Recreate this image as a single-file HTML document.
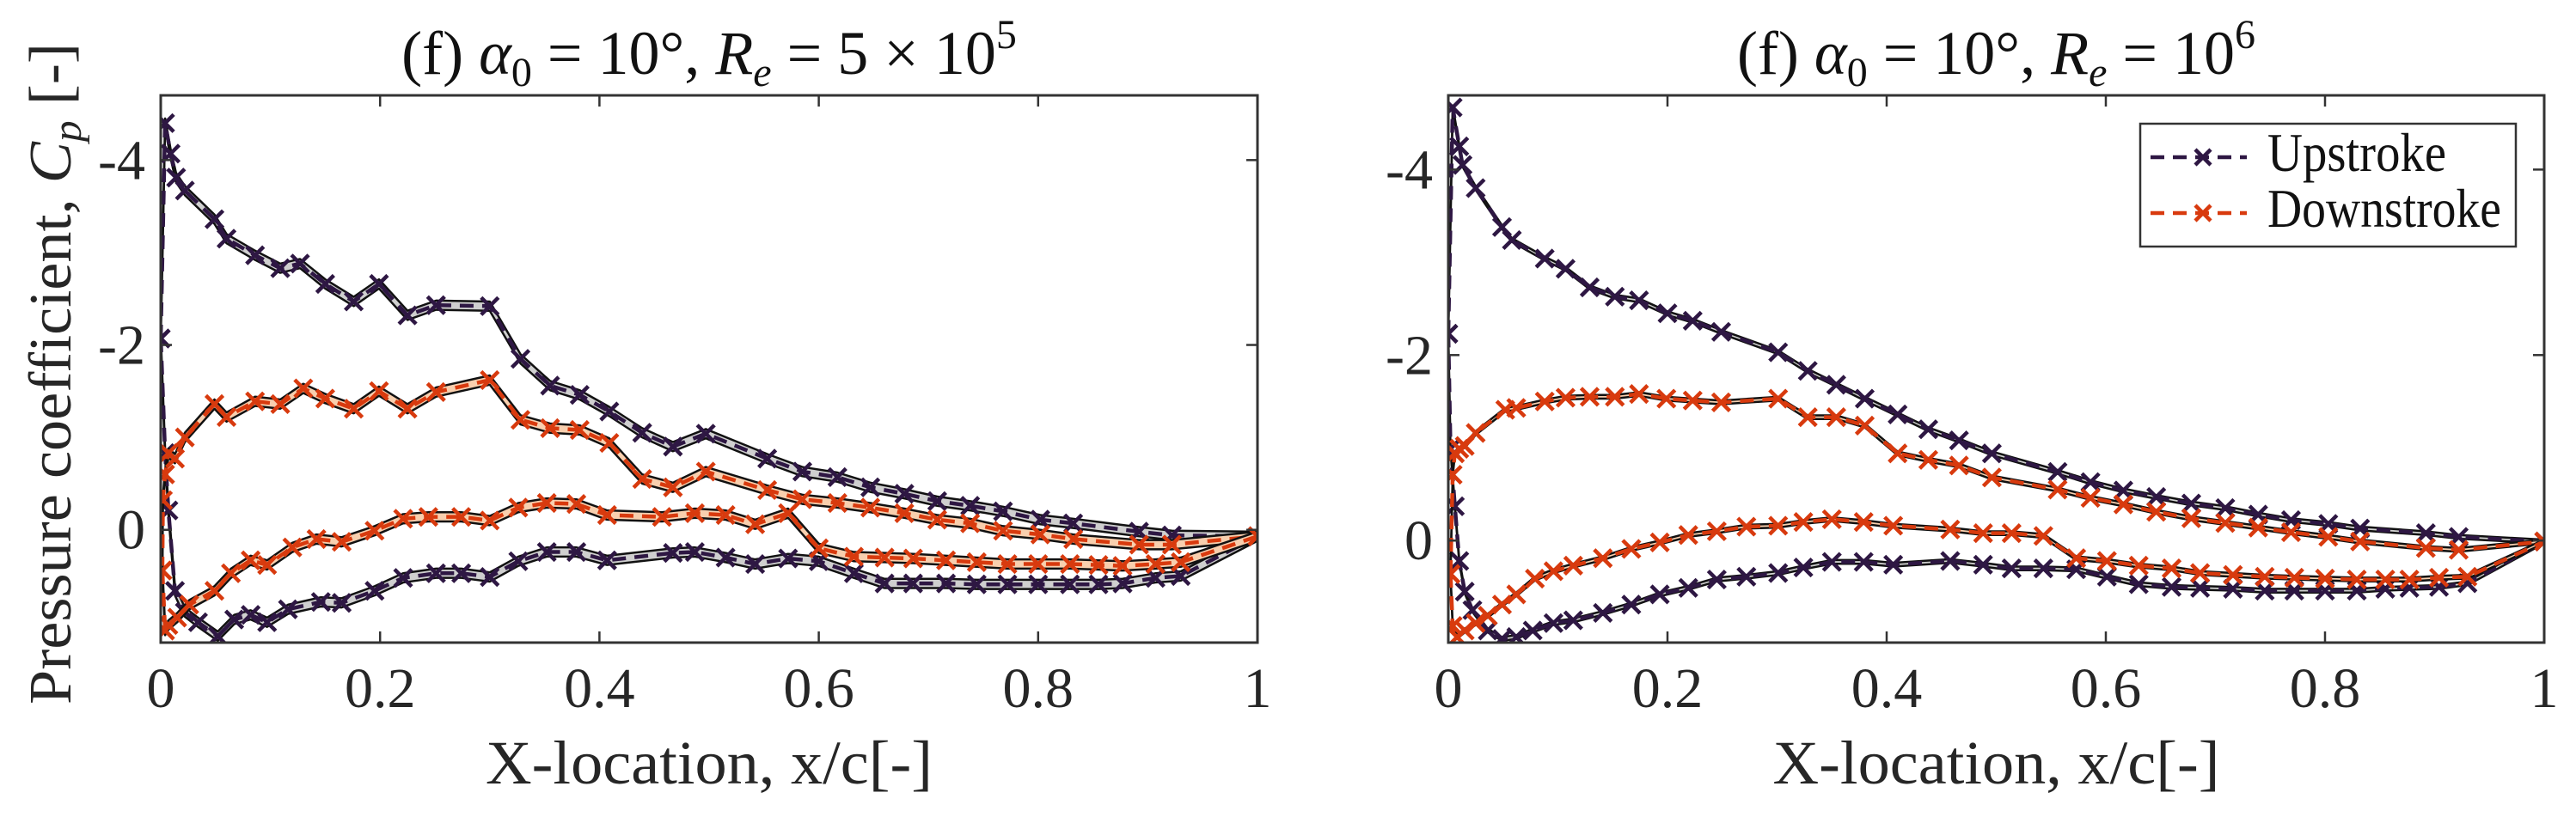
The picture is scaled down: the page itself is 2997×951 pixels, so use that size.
<!DOCTYPE html>
<html><head><meta charset="utf-8"><style>
html,body{margin:0;padding:0;background:#fff;}
svg{display:block;font-family:"Liberation Serif",serif;}
</style></head><body>
<svg id="fig" width="2997" height="951" viewBox="0 0 2997 951" xmlns="http://www.w3.org/2000/svg"></svg>
<script>
// ---------- data ----------
const xTicks = [0,0.2,0.4,0.6,0.8,1];
const xTickLabels = ["0","0.2","0.4","0.6","0.8","1"];
const yTicks = [-4,-2,0];
const yTickLabels = ["-4","-2","0"];

// Left panel (Re = 5e5)
const L_upU_x = [0,0.004,0.009,0.014,0.022,0.049,0.06,0.086,0.109,0.127,0.15,0.176,0.199,0.225,0.251,0.3,0.328,0.355,0.382,0.409,0.439,0.467,0.497,0.553,0.585,0.617,0.647,0.678,0.708,0.738,0.768,0.802,0.832,0.892,0.922,1.0];
const L_upU_y = [-2.07,-4.40,-4.07,-3.81,-3.67,-3.36,-3.15,-2.97,-2.83,-2.88,-2.66,-2.47,-2.66,-2.32,-2.43,-2.42,-1.85,-1.56,-1.46,-1.28,-1.05,-0.9,-1.04,-0.77,-0.63,-0.57,-0.46,-0.39,-0.31,-0.26,-0.2,-0.11,-0.07,0.02,0.06,0.07];
const L_upL_x = [0,0.004,0.007,0.013,0.022,0.034,0.052,0.067,0.082,0.097,0.116,0.146,0.165,0.195,0.221,0.251,0.274,0.3,0.326,0.352,0.379,0.407,0.467,0.487,0.515,0.542,0.572,0.6,0.632,0.66,0.686,0.716,0.744,0.772,0.8,0.829,0.855,0.877,0.907,0.93,1.0];
const L_upL_y = [-2.07,-0.83,-0.21,0.66,0.89,1.0,1.15,0.97,0.92,1.0,0.86,0.78,0.79,0.66,0.52,0.47,0.47,0.51,0.34,0.24,0.24,0.33,0.25,0.24,0.3,0.37,0.31,0.34,0.47,0.58,0.58,0.58,0.59,0.59,0.59,0.59,0.59,0.58,0.52,0.5,0.07];
const L_dnU_x = [0.0015,0.002,0.004,0.007,0.013,0.022,0.049,0.06,0.086,0.109,0.13,0.15,0.176,0.199,0.225,0.251,0.3,0.328,0.355,0.382,0.409,0.439,0.467,0.497,0.553,0.585,0.617,0.647,0.678,0.708,0.738,0.768,0.802,0.832,0.892,0.922,1.0];
const L_dnU_y = [0.44,-0.32,-0.6,-0.83,-0.77,-1.0,-1.36,-1.22,-1.39,-1.36,-1.53,-1.42,-1.31,-1.5,-1.31,-1.49,-1.62,-1.19,-1.1,-1.08,-0.94,-0.55,-0.46,-0.63,-0.43,-0.33,-0.29,-0.24,-0.18,-0.11,-0.07,0.01,0.05,0.1,0.16,0.16,0.07];
const L_dnL_x = [0.0015,0.004,0.007,0.015,0.026,0.049,0.064,0.082,0.097,0.12,0.142,0.165,0.195,0.221,0.244,0.274,0.3,0.326,0.352,0.379,0.407,0.457,0.487,0.515,0.542,0.572,0.6,0.632,0.66,0.686,0.716,0.744,0.772,0.8,0.829,0.855,0.877,0.907,0.93,1.0];
const L_dnL_y = [0.44,1.09,1.03,0.95,0.81,0.66,0.47,0.33,0.38,0.19,0.1,0.13,0.01,-0.12,-0.14,-0.14,-0.1,-0.24,-0.29,-0.28,-0.16,-0.14,-0.18,-0.16,-0.06,-0.18,0.2,0.29,0.3,0.31,0.33,0.35,0.37,0.37,0.37,0.38,0.39,0.37,0.35,0.07];

// Right panel (Re = 1e6)
const R_upU_x = [0,0.004,0.01,0.013,0.025,0.049,0.058,0.088,0.107,0.129,0.152,0.174,0.2,0.223,0.249,0.301,0.328,0.354,0.38,0.41,0.438,0.466,0.496,0.556,0.586,0.616,0.646,0.678,0.709,0.739,0.769,0.803,0.832,0.892,0.922,1.0];
const R_upU_y = [-2.23,-4.67,-4.25,-4.05,-3.8,-3.38,-3.24,-3.04,-2.93,-2.73,-2.63,-2.59,-2.45,-2.37,-2.25,-2.03,-1.83,-1.68,-1.53,-1.36,-1.2,-1.08,-0.94,-0.74,-0.63,-0.54,-0.47,-0.4,-0.35,-0.28,-0.22,-0.18,-0.13,-0.08,-0.04,0.01];
const R_upL_x = [0,0.002,0.006,0.01,0.015,0.022,0.036,0.049,0.062,0.077,0.096,0.114,0.141,0.167,0.193,0.219,0.245,0.272,0.301,0.324,0.35,0.379,0.406,0.458,0.488,0.514,0.543,0.573,0.601,0.63,0.66,0.686,0.716,0.745,0.772,0.8,0.829,0.855,0.877,0.904,0.93,1.0];
const R_upL_y = [-2.23,-0.99,-0.37,0.22,0.55,0.75,0.97,1.06,1.04,0.97,0.89,0.86,0.78,0.69,0.58,0.51,0.42,0.39,0.35,0.29,0.23,0.23,0.26,0.22,0.26,0.3,0.3,0.31,0.39,0.47,0.5,0.51,0.52,0.54,0.54,0.54,0.54,0.52,0.51,0.5,0.46,0.01];
const R_dnU_x = [0.002,0.004,0.006,0.01,0.015,0.025,0.052,0.062,0.088,0.107,0.129,0.152,0.174,0.199,0.223,0.249,0.301,0.328,0.354,0.38,0.41,0.438,0.466,0.496,0.556,0.586,0.616,0.646,0.678,0.709,0.739,0.769,0.803,0.832,0.892,0.922,1.0];
const R_dnU_y = [0.36,-0.71,-0.94,-0.99,-1.02,-1.16,-1.41,-1.43,-1.5,-1.54,-1.55,-1.55,-1.58,-1.53,-1.51,-1.49,-1.53,-1.33,-1.33,-1.24,-0.94,-0.87,-0.81,-0.68,-0.55,-0.46,-0.39,-0.31,-0.24,-0.19,-0.14,-0.09,-0.04,0.01,0.08,0.1,0.01];
const R_dnL_x = [0.002,0.004,0.008,0.015,0.025,0.036,0.049,0.062,0.079,0.096,0.114,0.141,0.167,0.193,0.219,0.245,0.272,0.301,0.324,0.35,0.379,0.406,0.458,0.488,0.514,0.543,0.573,0.601,0.63,0.66,0.686,0.716,0.745,0.772,0.8,0.829,0.855,0.877,0.904,0.93,1.0];
const R_dnL_y = [0.36,0.92,1.04,0.97,0.89,0.81,0.69,0.58,0.41,0.33,0.27,0.19,0.09,0.02,-0.06,-0.1,-0.15,-0.16,-0.2,-0.23,-0.2,-0.16,-0.12,-0.08,-0.08,-0.05,0.19,0.22,0.27,0.3,0.35,0.37,0.39,0.4,0.41,0.42,0.42,0.42,0.4,0.39,0.01];

// ---------- drawing ----------
const NS = "http://www.w3.org/2000/svg";
const svg = document.getElementById("fig");
const UP = "#2e1743", DN = "#d83a0e";
function mk(tag, attrs, parent){
  const e = document.createElementNS(NS, tag);
  for (const k in attrs) e.setAttribute(k, attrs[k]);
  (parent||svg).appendChild(e);
  return e;
}

function panel(id, box, ylim, titleHTML, series, bandHW){
  const g = mk("g", {});
  
  
  const sx = v => box.x0 + (v - 0) / 1 * (box.x1 - box.x0);
  const sy = v => box.y0 + (v - ylim[0]) / (ylim[1] - ylim[0]) * (box.y1 - box.y0);
  const clipId = id + "-clip";
  const cp = mk("clipPath", {id: clipId}, g);
  mk("rect", {x: box.x0, y: box.y0, width: box.x1-box.x0, height: box.y1-box.y0}, cp);
  const plot = mk("g", {"clip-path": "url(#"+clipId+")"}, g);

  series.forEach(s => {
    const sg = mk("g", {}, plot);
    
    
    const top = s.x.map((x,i)=>[sx(x), sy(s.y[i]-bandHW)]);
    const bot = s.x.map((x,i)=>[sx(x), sy(s.y[i]+bandHW)]);
    const band = mk("polygon", {points: top.concat(bot.slice().reverse()).map(p=>p.join(",")).join(" "),
      fill: s.fill, stroke: "none"}, sg);
    
    
    [top, bot].forEach(pts => {
      mk("polyline", {points: pts.map(p=>p.join(",")).join(" "), fill:"none", stroke:"#111", "stroke-width":2.5, "stroke-linejoin":"round"}, sg);
    });
    const line = mk("polyline", {points: s.x.map((x,i)=>sx(x)+","+sy(s.y[i])).join(" "),
      fill:"none", stroke: s.color, "stroke-width":4.5, "stroke-dasharray":"16,10"}, sg);
    
    
    s.x.forEach((x,i) => {
      const cx = sx(x), cy = sy(s.y[i]), r = 10;
      const m = mk("path", {d:`M${cx-r},${cy-r}L${cx+r},${cy+r}M${cx-r},${cy+r}L${cx+r},${cy-r}`, stroke: s.color, "stroke-width":4.5, fill:"none"}, sg);
      
      
    });
  });

  const frame = mk("rect", {x: box.x0, y: box.y0, width: box.x1-box.x0, height: box.y1-box.y0, fill:"none", stroke:"#333", "stroke-width":3}, g);
  
  
  xTicks.forEach((t,i) => {
    const x = sx(t);
    mk("line", {x1:x, x2:x, y1:box.y1, y2:box.y1-13, stroke:"#333", "stroke-width":2.5}, g);
    mk("line", {x1:x, x2:x, y1:box.y0, y2:box.y0+13, stroke:"#333", "stroke-width":2.5}, g);
    const tl = mk("text", {x:x, y:823, "text-anchor":"middle", "font-size":66, fill:"#262626"}, g);
    tl.textContent = xTickLabels[i];
    
    
  });
  yTicks.forEach((t,i) => {
    const y = sy(t);
    mk("line", {x1:box.x0, x2:box.x0+13, y1:y, y2:y, stroke:"#333", "stroke-width":2.5}, g);
    mk("line", {x1:box.x1, x2:box.x1-13, y1:y, y2:y, stroke:"#333", "stroke-width":2.5}, g);
    const tl = mk("text", {x:box.x0-18, y:y+22, "text-anchor":"end", "font-size":66, fill:"#262626"}, g);
    tl.textContent = yTickLabels[i];
    
    
  });
  const xl = mk("text", {x:(box.x0+box.x1)/2, y:912, "text-anchor":"middle", "font-size":72, fill:"#262626", textLength:520, lengthAdjust:"spacingAndGlyphs"}, g);
  xl.textContent = "X-location, x/c[-]";
  
  
  const tt = mk("text", {x:(box.x0+box.x1)/2, y:86, "text-anchor":"middle", "font-size":72, fill:"#111"}, g);
  tt.innerHTML = titleHTML;
  
  
}

panel("left-panel", {x0:187, x1:1463, y0:111, y1:748}, [-4.7, 1.22],
  '(f) <tspan font-style="italic">α</tspan><tspan font-size="48" dy="14">0</tspan><tspan dy="-14"> = 10°, </tspan><tspan font-style="italic">R</tspan><tspan font-size="48" font-style="italic" dy="14">e</tspan><tspan dy="-14"> = 5 × 10</tspan><tspan font-size="48" dy="-30">5</tspan>',
  [
   {name:"upstroke-upper", x:L_upU_x, y:L_upU_y, color:UP, fill:"#cfcfcf"},
   {name:"upstroke-lower", x:L_upL_x, y:L_upL_y, color:UP, fill:"#cfcfcf"},
   {name:"downstroke-upper", x:L_dnU_x, y:L_dnU_y, color:DN, fill:"#f8cfae"},
   {name:"downstroke-lower", x:L_dnL_x, y:L_dnL_y, color:DN, fill:"#f8cfae"}
  ], 0.05);

panel("right-panel", {x0:1685, x1:2960, y0:111, y1:748}, [-4.8, 1.1],
  '(f) <tspan font-style="italic">α</tspan><tspan font-size="48" dy="14">0</tspan><tspan dy="-14"> = 10°, </tspan><tspan font-style="italic">R</tspan><tspan font-size="48" font-style="italic" dy="14">e</tspan><tspan dy="-14"> = 10</tspan><tspan font-size="48" dy="-30">6</tspan>',
  [
   {name:"upstroke-upper", x:R_upU_x, y:R_upU_y, color:UP, fill:"#cfcfcf"},
   {name:"upstroke-lower", x:R_upL_x, y:R_upL_y, color:UP, fill:"#cfcfcf"},
   {name:"downstroke-upper", x:R_dnU_x, y:R_dnU_y, color:DN, fill:"#f8cfae"},
   {name:"downstroke-lower", x:R_dnL_x, y:R_dnL_y, color:DN, fill:"#f8cfae"}
  ], 0.02);

// y-axis title
const yl = mk("text", {x:0, y:0, transform:"translate(82,435) rotate(-90)", "text-anchor":"middle", "font-size":70, fill:"#262626", textLength:770, lengthAdjust:"spacingAndGlyphs"});
yl.innerHTML = 'Pressure coefficient, <tspan font-style="italic">C</tspan><tspan font-style="italic" font-size="48" dy="12">p</tspan><tspan dy="-12"> [-]</tspan>';



// legend
const lg = mk("g", {});


mk("rect", {x:2490, y:144, width:437, height:143, fill:"#fff", stroke:"#333", "stroke-width":2.5}, lg);
[["Upstroke", UP, 183, 208], ["Downstroke", DN, 248, 272]].forEach(([lab, col, y, w]) => {
  const e = mk("g", {}, lg);
  
  
  mk("line", {x1:2502, x2:2614, y1:y, y2:y, stroke:col, "stroke-width":4.5, "stroke-dasharray":"16,10"}, e);
  mk("path", {d:`M2554,${y-9}L2572,${y+9}M2554,${y+9}L2572,${y-9}`, stroke:col, "stroke-width":4.5}, e);
  const t = mk("text", {x:2638, y:y+16, "font-size":64, fill:"#111", textLength:w, lengthAdjust:"spacingAndGlyphs"}, e);
  t.textContent = lab;
});
</script>
</body></html>
